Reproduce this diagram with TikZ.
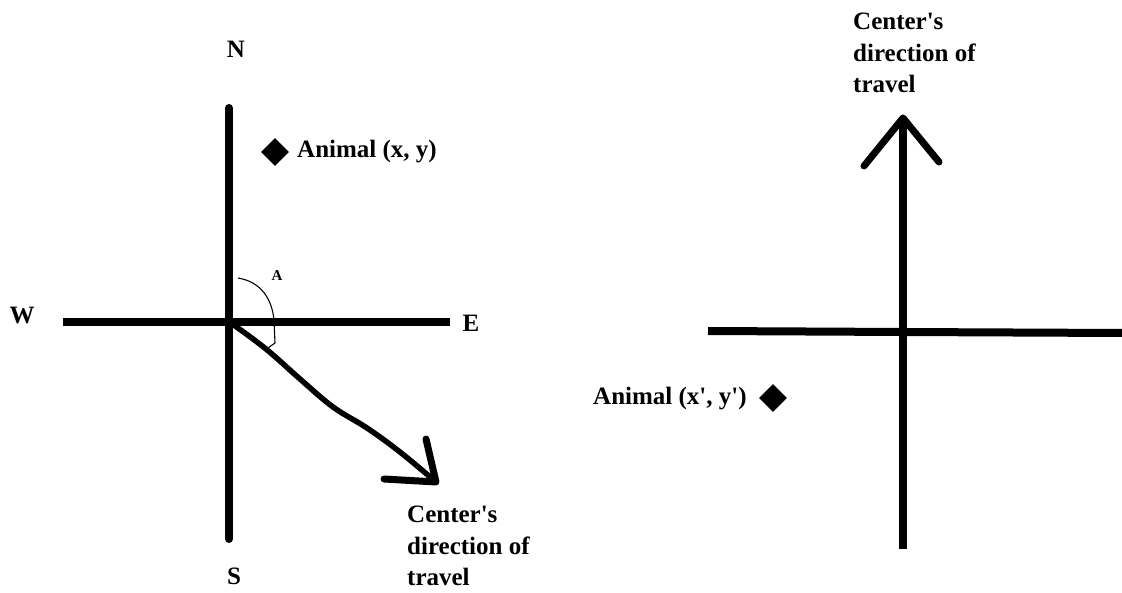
\documentclass[tikz,border=0pt]{standalone}
\usepackage{fontspec}
\setmainfont{Liberation Serif}
\usetikzlibrary{shapes.geometric}
\begin{document}
\begin{tikzpicture}[x=1pt,y=-1pt,
  axis/.style={line width=8pt},
  pen/.style={line width=7pt,line cap=round,line join=round},
  thin/.style={line width=1.1pt},
  lbl/.style={font=\bfseries\fontsize{25}{31.5}\selectfont,inner sep=0pt},
  multi/.style={lbl,align=left,anchor=north west},
  dia/.style={diamond,fill=black,inner sep=0pt,minimum width=28pt,minimum height=28pt}]
\useasboundingbox (0,0) rectangle (1122,593);
% ---------- left figure ----------
\coordinate (O) at (229,322);
\coordinate (Ntop) at (229,108);
\coordinate (Sbot) at (229,539);
\coordinate (Wend) at (63,322);
\coordinate (Eend) at (450,322);
\draw[axis,line cap=round] (Ntop) -- (Sbot);
\draw[axis] (Wend) -- (Eend);
\node[lbl] (N) at (236,49) {N};
\node[lbl] (S) at (234,576) {S};
\node[lbl] (W) at (22,316) {W};
\node[lbl] (E) at (471,323) {E};
\node[dia] (d1) at (275,152) {};
\node[lbl,anchor=base west] (an1) at (297,158) {Animal (x, y)};
% angle arc
\coordinate (a0) at (238,278);
\coordinate (a1) at (274,320);
\coordinate (a2) at (268,348);
\draw[thin] (a0) .. controls (262,282) and (272,300) .. (a1) -- (275,343) -- (a2);
\node[lbl,font=\bfseries\fontsize{15}{18}\selectfont] (A) at (277,276) {A};
% hand-drawn travel direction
\coordinate (tip1) at (436,482);
\draw[line width=5.5pt,line cap=round,line join=round] plot[smooth,tension=0.6] coordinates
  {(231,323) (266,349) (300,379) (333,407) (367,428) (400,452) (tip1)};
\draw[pen] (426,439) -- (tip1) -- (384,479);
\node[multi] (c1) at (407,506) {Center\textquotesingle s\\direction of\\travel};
% ---------- right figure ----------
\coordinate (O2) at (903,332);
\coordinate (Rtop) at (903,118);
\coordinate (Rbot) at (903,549);
\coordinate (Rw) at (708,331);
\coordinate (Re) at (1122,333);
\draw[axis] (Rtop) -- (Rbot);
\draw[axis] (Rw) -- (O2) -- (Re);
\draw[pen] (864,166) -- (Rtop) -- (939,162);
\node[dia] (d2) at (773,398) {};
\node[lbl,anchor=base west] (an2) at (593,405) {Animal (x\textquotesingle, y\textquotesingle)};
\node[multi] (c2) at (853,13) {Center\textquotesingle s\\direction of\\travel};
\end{tikzpicture}
\end{document}
